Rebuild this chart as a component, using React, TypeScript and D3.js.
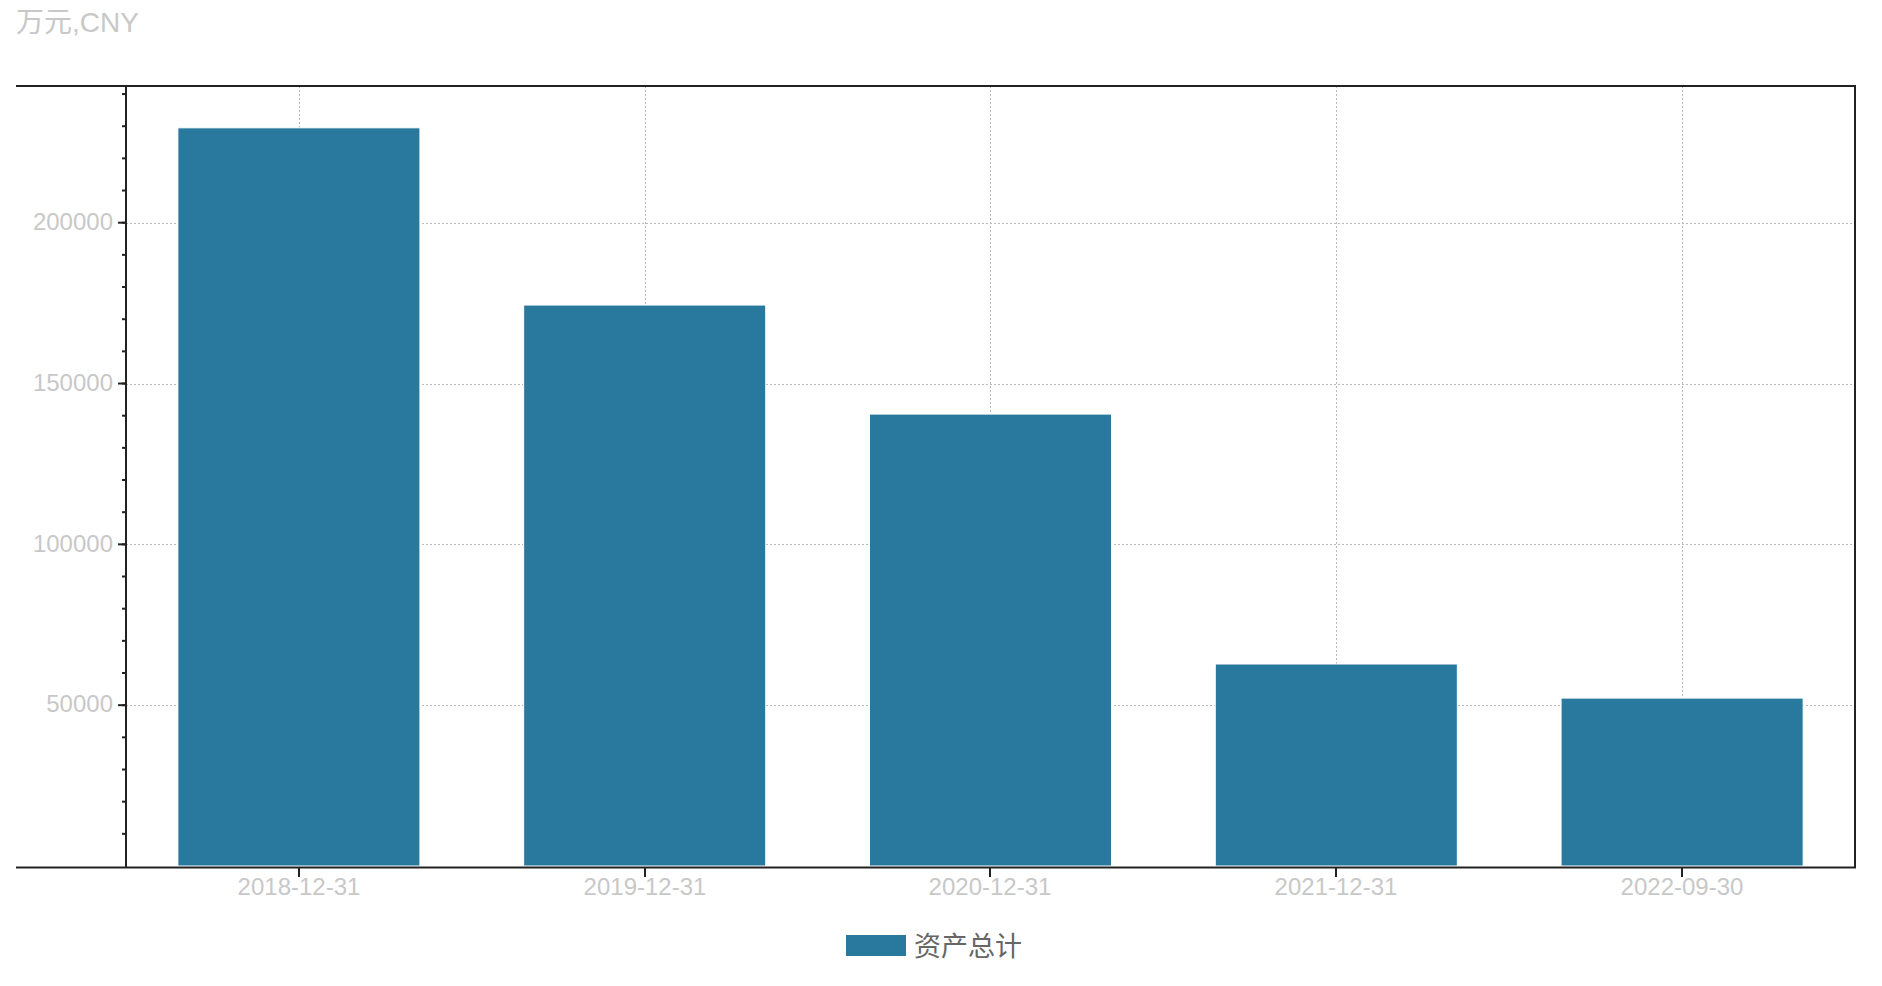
import React from "react";
import * as d3 from "d3";

const categories = ["2018-12-31", "2019-12-31", "2020-12-31", "2021-12-31", "2022-09-30"];
const values = [229500, 174400, 140500, 62800, 52200];
const majorTicks = [50000, 100000, 150000, 200000];
const seriesName = "资产总计";
const unitLabel = "万元,CNY";

const W = 1882;
const H = 986;
const left = 126;
const right = 1855;
const top = 86;
const bottom = 866;
const frameLeft = 16;

const FONT = "'Liberation Sans', 'Noto Sans CJK SC', Arial, sans-serif";

export default function App() {
  const x = d3.scaleBand<string>().domain(categories).range([left, right]).paddingInner(0.3).paddingOuter(0.15);
  const y = d3.scaleLinear().domain([0, 242500]).range([bottom, top]);
  const minor = d3.range(10000, 242500, 10000);
  const barColor = "#29789e";
  return (
    <svg width={W} height={H} style={{ position: "absolute", left: 0, top: 0, background: "#fff" }}>
      <text x={16} y={32} fontFamily={FONT} fontSize={28} fill="#c8c8c8">{unitLabel}</text>
      {/* grid */}
      {majorTicks.map((t) => (
        <line key={"hg" + t} x1={left} x2={right} y1={Math.round(y(t)) + 0.5} y2={Math.round(y(t)) + 0.5} stroke="#b8b8b8" strokeWidth={1} strokeDasharray="2,2" />
      ))}
      {categories.map((c) => {
        const cx = Math.round(x(c)! + x.bandwidth() / 2) + 0.5;
        return <line key={"vg" + c} x1={cx} x2={cx} y1={top} y2={bottom} stroke="#b8b8b8" strokeWidth={1} strokeDasharray="2,2" />;
      })}
      {/* bars */}
      {categories.map((c, i) => (
        <rect key={c} x={x(c)!} y={y(values[i])} width={x.bandwidth()} height={y(0) - y(values[i])} fill={barColor} stroke="#ffffff" strokeWidth={1} />
      ))}
      {/* frame */}
      <line x1={frameLeft} x2={right + 1} y1={top} y2={top} stroke="#222" strokeWidth={2} />
      <line x1={frameLeft} x2={right + 1} y1={bottom + 1.5} y2={bottom + 1.5} stroke="#222" strokeWidth={2} />
      <line x1={right} x2={right} y1={top} y2={bottom + 2} stroke="#222" strokeWidth={2} />
      <line x1={left} x2={left} y1={top} y2={bottom + 2} stroke="#222" strokeWidth={2} />
      {/* y ticks */}
      {minor.map((t) => (
        <line key={"mt" + t} x1={left - 4} x2={left} y1={y(t)} y2={y(t)} stroke="#222" strokeWidth={2} />
      ))}
      {majorTicks.map((t) => (
        <g key={"yt" + t}>
          <line x1={left - 8} x2={left} y1={y(t)} y2={y(t)} stroke="#222" strokeWidth={2} />
          <text x={113} y={y(t)} dy="0.3em" textAnchor="end" fontFamily={FONT} fontSize={24} fill="#c8c8c8">{t}</text>
        </g>
      ))}
      {/* x ticks */}
      {categories.map((c) => {
        const cx = Math.round(x(c)! + x.bandwidth() / 2);
        return (
          <g key={"xt" + c}>
            <line x1={cx} x2={cx} y1={bottom + 2} y2={bottom + 11} stroke="#222" strokeWidth={2} />
            <text x={cx} y={895} textAnchor="middle" fontFamily={FONT} fontSize={24} fill="#c8c8c8">{c}</text>
          </g>
        );
      })}
      {/* legend */}
      <rect x={846} y={935} width={60} height={21} fill={barColor} />
      <text x={914} y={956} fontFamily={FONT} fontSize={27} fill="#666">{seriesName}</text>
    </svg>
  );
}
